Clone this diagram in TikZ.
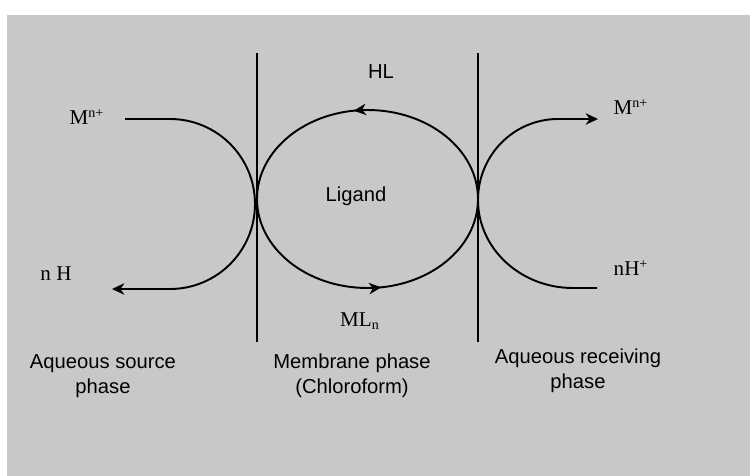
\documentclass[tikz,border=0pt]{standalone}
\usepackage{fontspec}
\setmainfont{Liberation Serif}
\setsansfont{Liberation Sans}
\usetikzlibrary{positioning}
\usetikzlibrary{arrows.meta}
\usetikzlibrary{decorations.markings}
\definecolor{paper}{RGB}{200,201,199}

\begin{document}
\begin{tikzpicture}[x=0.02cm, y=-0.02cm, >={Stealth[length=7pt, width=6.5pt, inset=2.2pt]},
    every node/.style={inner sep=0pt},
    chem/.style={font=\fontsize{12}{14}\selectfont},
    txt/.style={font=\sffamily\fontsize{11.5}{14.2}\selectfont, align=center},
    flow/.style={line width=1.1pt},
    wall/.style={line width=1pt}]

    \useasboundingbox (0,0) rectangle (750,476);
    \fill[paper] (7,15) rectangle (750,476);

    % membrane walls
    \coordinate (w1t) at (257,53);
    \coordinate (w1b) at (257,342);
    \coordinate (w2t) at (478,53);
    \coordinate (w2b) at (478,342);
    \draw[wall] (w1t) -- (w1b);
    \draw[wall] (w2t) -- (w2b);

    % carrier loop
    \coordinate (c0) at (478,199);
    \draw[flow, postaction={decorate}, decoration={markings,
        mark=at position 0.272 with {\arrow{>}},
        mark=at position 0.772 with {\arrow{>}}}]
      (c0) arc[start angle=0, end angle=-360, x radius=110.5, y radius=89];

    % source side
    \coordinate (a1) at (125,119);
    \coordinate (a2) at (112,289);
    \draw[flow, ->] (a1) -- (170,119)
      arc[start angle=-90, end angle=90, radius=85] -- (a2);

    % receiving side
    \coordinate (b1) at (597,288);
    \coordinate (b2) at (598,119);
    \draw[flow, ->] (b1) -- (573,288)
      arc[start angle=90, end angle=180, x radius=95, y radius=88]
      arc[start angle=180, end angle=270, x radius=80, y radius=81] -- (b2);

    \node[chem] (min) at (87,117) {M\textsuperscript{n+}};
    \node[chem] (nh) at (56,274) {n H};
    \node[chem] (mout) at (631,107) {M\textsuperscript{n+}};
    \node[chem] (nhp) at (631,268) {nH\textsuperscript{+}};
    \node[chem] (mln) at (360,321) {ML\textsubscript{n}};
    \node[txt] (hl) at (381,72) {HL};
    \node[txt] (lig) at (356,196) {Ligand};

    \node[txt] (src) at (103,376) {Aqueous source\\phase};
    \node[txt] (mem) at (352,376) {Membrane phase\\(Chloroform)};
    \node[txt] (rcv) at (578,371) {Aqueous receiving\\phase};
\end{tikzpicture}
\end{document}
